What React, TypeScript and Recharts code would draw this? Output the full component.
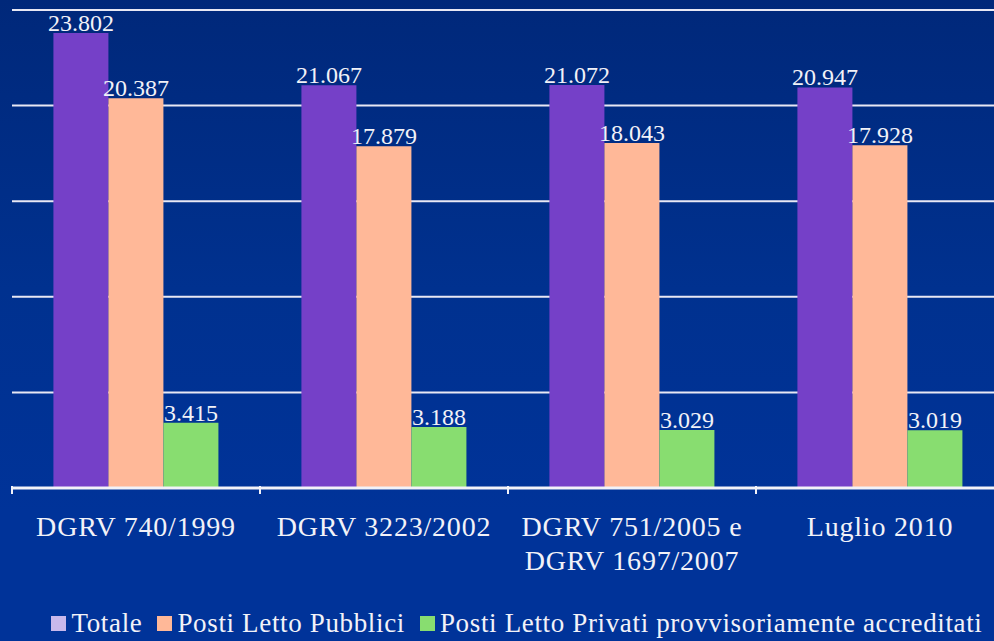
import { Bar, BarChart, CartesianGrid, LabelList, Legend, XAxis, YAxis } from 'recharts'

const categories = ['DGRV 740/1999', 'DGRV 3223/2002', 'DGRV 751/2005 e\nDGRV 1697/2007', 'Luglio 2010']
const totale = [23802, 21067, 21072, 20947]
const pubblici = [20387, 17879, 18043, 17928]
const privati = [3415, 3188, 3029, 3019]
const yTicks = [0, 5000, 10000, 15000, 20000, 25000]

const seriesInfo = [
  { key: 'totale', name: 'Totale', color: '#7540c8', legend: '#c8b8ec' },
  { key: 'pubblici', name: 'Posti Letto Pubblici', color: '#ffb898', legend: '#ffb898' },
  { key: 'privati', name: 'Posti Letto Privati provvisoriamente accreditati', color: '#88dd70', legend: '#88dd70' },
]

const data = categories.map((c, i) => ({
  cat: c,
  totale: totale[i],
  pubblici: pubblici[i],
  privati: privati[i],
}))

const FONT = '"Liberation Serif", "Times New Roman", serif'
const TEXT = '#f2f2f8'
const BAND = 248

const fmt = (v: any) => String(v).replace(/\B(?=(\d{3})+(?!\d))/g, '.')

function CatTick(props: any) {
  const { x, y, payload } = props
  const lines = String(payload.value).split('\n')
  return (
    <g>
      <line x1={x - BAND / 2} x2={x - BAND / 2} y1={y - 8} y2={y} stroke={TEXT} strokeWidth={2} />
      <text
        x={x}
        y={y + 42}
        textAnchor="middle"
        fill={TEXT}
        fontFamily={FONT}
        fontSize={28}
        letterSpacing={0.8}
      >
        {lines.map((l, i) => (
          <tspan key={i} x={x} dy={i === 0 ? 0 : 34}>
            {l}
          </tspan>
        ))}
      </text>
    </g>
  )
}

function LegendBox() {
  return (
    <div
      style={{
        display: 'flex',
        justifyContent: 'center',
        alignItems: 'center',
        height: 30,
        fontFamily: FONT,
        fontSize: 27,
        letterSpacing: 0.65,
        color: TEXT,
        whiteSpace: 'nowrap',
        paddingLeft: 18,
      }}
    >
      {seriesInfo.map((s, i) => (
        <span key={s.key} style={{ display: 'inline-flex', alignItems: 'center', marginLeft: i === 0 ? 0 : 15 }}>
          <span style={{ width: 15, height: 15, background: s.legend, display: 'inline-block', marginRight: 5 }} />
          {s.name}
        </span>
      ))}
    </div>
  )
}

export default function App() {
  return (
    <div
      style={{
        position: 'absolute',
        left: 0,
        top: 0,
        width: 994,
        height: 641,
        overflow: 'hidden',
        background: 'linear-gradient(180deg, #00287a 0%, #00318f 45%, #003399 80%)',
      }}
    >
      <BarChart
        width={1010}
        height={641}
        data={data}
        margin={{ top: 10, right: 6, left: 12, bottom: 3 }}
        barCategoryGap="16.7%"
        barGap={0}
      >
        <CartesianGrid vertical={false} stroke="#e8e8f4" strokeWidth={2} />
        <YAxis hide domain={[0, 25000]} ticks={yTicks} width={0} />
        <XAxis
          dataKey="cat"
          interval={0}
          height={120}
          axisLine={{ stroke: TEXT, strokeWidth: 3 }}
          tickLine={false}
          tick={<CatTick />}
          tickMargin={0}
        />
        <Legend verticalAlign="bottom" height={30} content={<LegendBox />} />
        {seriesInfo.map((s) => (
          <Bar key={s.key} dataKey={s.key} name={s.name} fill={s.color} isAnimationActive={false}>
            <LabelList
              dataKey={s.key}
              position="top"
              offset={2}
              formatter={fmt}
              fill={TEXT}
              fontFamily={FONT}
              fontSize={24}
            />
          </Bar>
        ))}
      </BarChart>
    </div>
  )
}
